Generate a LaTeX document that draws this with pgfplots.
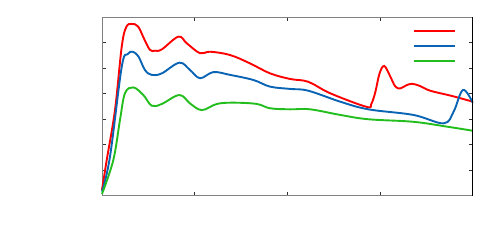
\documentclass[border=0pt]{standalone}
\usepackage{pgfplots}
\pgfplotsset{compat=1.18}
\definecolor{cred}{RGB}{255,0,0}
\definecolor{cblue}{RGB}{10,100,180}
\definecolor{cgreen}{RGB}{35,190,30}
\begin{document}
\begin{tikzpicture}[x=1bp,y=1bp]
\path[use as bounding box] (0,0) rectangle (500,245);
\begin{axis}[
  at={(102bp,49.3bp)}, anchor=south west,
  width=370.7bp, height=178.4bp, scale only axis,
  xmin=0, xmax=4, ymin=0, ymax=7,
  xtick={0,1,2,3,4}, ytick={0,1,2,3,4,5,6,7},
  xticklabels={}, yticklabels={},
  tick align=inside, major tick length=4bp,
  tick style={black!80, line width=0.8bp},
  axis line style={gray, line width=1bp},
  clip=false,
  legend style={at={(axis cs:3.355,6.77)}, anchor=north west, draw=none, fill=none,
    inner sep=0pt, row sep=0pt, nodes={inner sep=0pt, minimum height=15bp}},
  legend cell align=left,
  legend image code/.code={\draw[#1] (0bp,0bp) -- (41bp,0bp);},
  every axis plot/.append style={line width=1.9bp, smooth, tension=0.6},
]
\addplot[cred] coordinates {
(0,0.22) (0.051,1.40) (0.14,3.36) (0.213,5.85) (0.262,6.62) (0.321,6.74) (0.389,6.64)
(0.455,6.15) (0.518,5.72) (0.572,5.69) (0.645,5.74) (0.824,6.24) (0.915,5.98) (1.058,5.59)
(1.166,5.65) (1.382,5.52) (1.598,5.19) (1.814,4.80) (2.03,4.58) (2.225,4.47)
(2.462,4.02) (2.851,3.49) (2.905,3.60) (2.948,4.05) (2.995,4.80) (3.045,5.09)
(3.105,4.72) (3.164,4.29) (3.218,4.21) (3.283,4.33) (3.348,4.39) (3.434,4.30)
(3.542,4.12) (3.780,3.91) (4.0,3.69)
};
\addlegendentry{}
\addplot[cblue] coordinates {
(0,0.16) (0.086,1.53) (0.213,5.06) (0.275,5.55) (0.332,5.65) (0.395,5.45) (0.464,4.93) (0.537,4.74)
(0.645,4.80) (0.835,5.22) (0.95,4.93) (1.058,4.61) (1.202,4.85) (1.382,4.74)
(1.634,4.54) (1.814,4.28) (2.03,4.19) (2.225,4.12) (2.57,3.69) (2.873,3.39)
(3.359,3.17) (3.686,2.84) (3.794,3.30) (3.895,4.15) (4.0,3.65)
};
\addlegendentry{}
\addplot[cgreen] coordinates {
(0,0.07) (0.122,1.40) (0.194,2.97) (0.248,4.02) (0.338,4.25) (0.446,3.95)
(0.537,3.53) (0.645,3.60) (0.835,3.95) (0.95,3.62) (1.077,3.36) (1.239,3.60)
(1.418,3.65) (1.67,3.60) (1.814,3.43) (2.03,3.39) (2.246,3.39) (2.57,3.17)
(2.873,3.00) (3.359,2.90) (3.722,2.71) (4.0,2.55)
};
\addlegendentry{}
\draw[black, line width=1bp] (rel axis cs:1,0) -- (rel axis cs:1,1);
\end{axis}
\end{tikzpicture}
\end{document}
